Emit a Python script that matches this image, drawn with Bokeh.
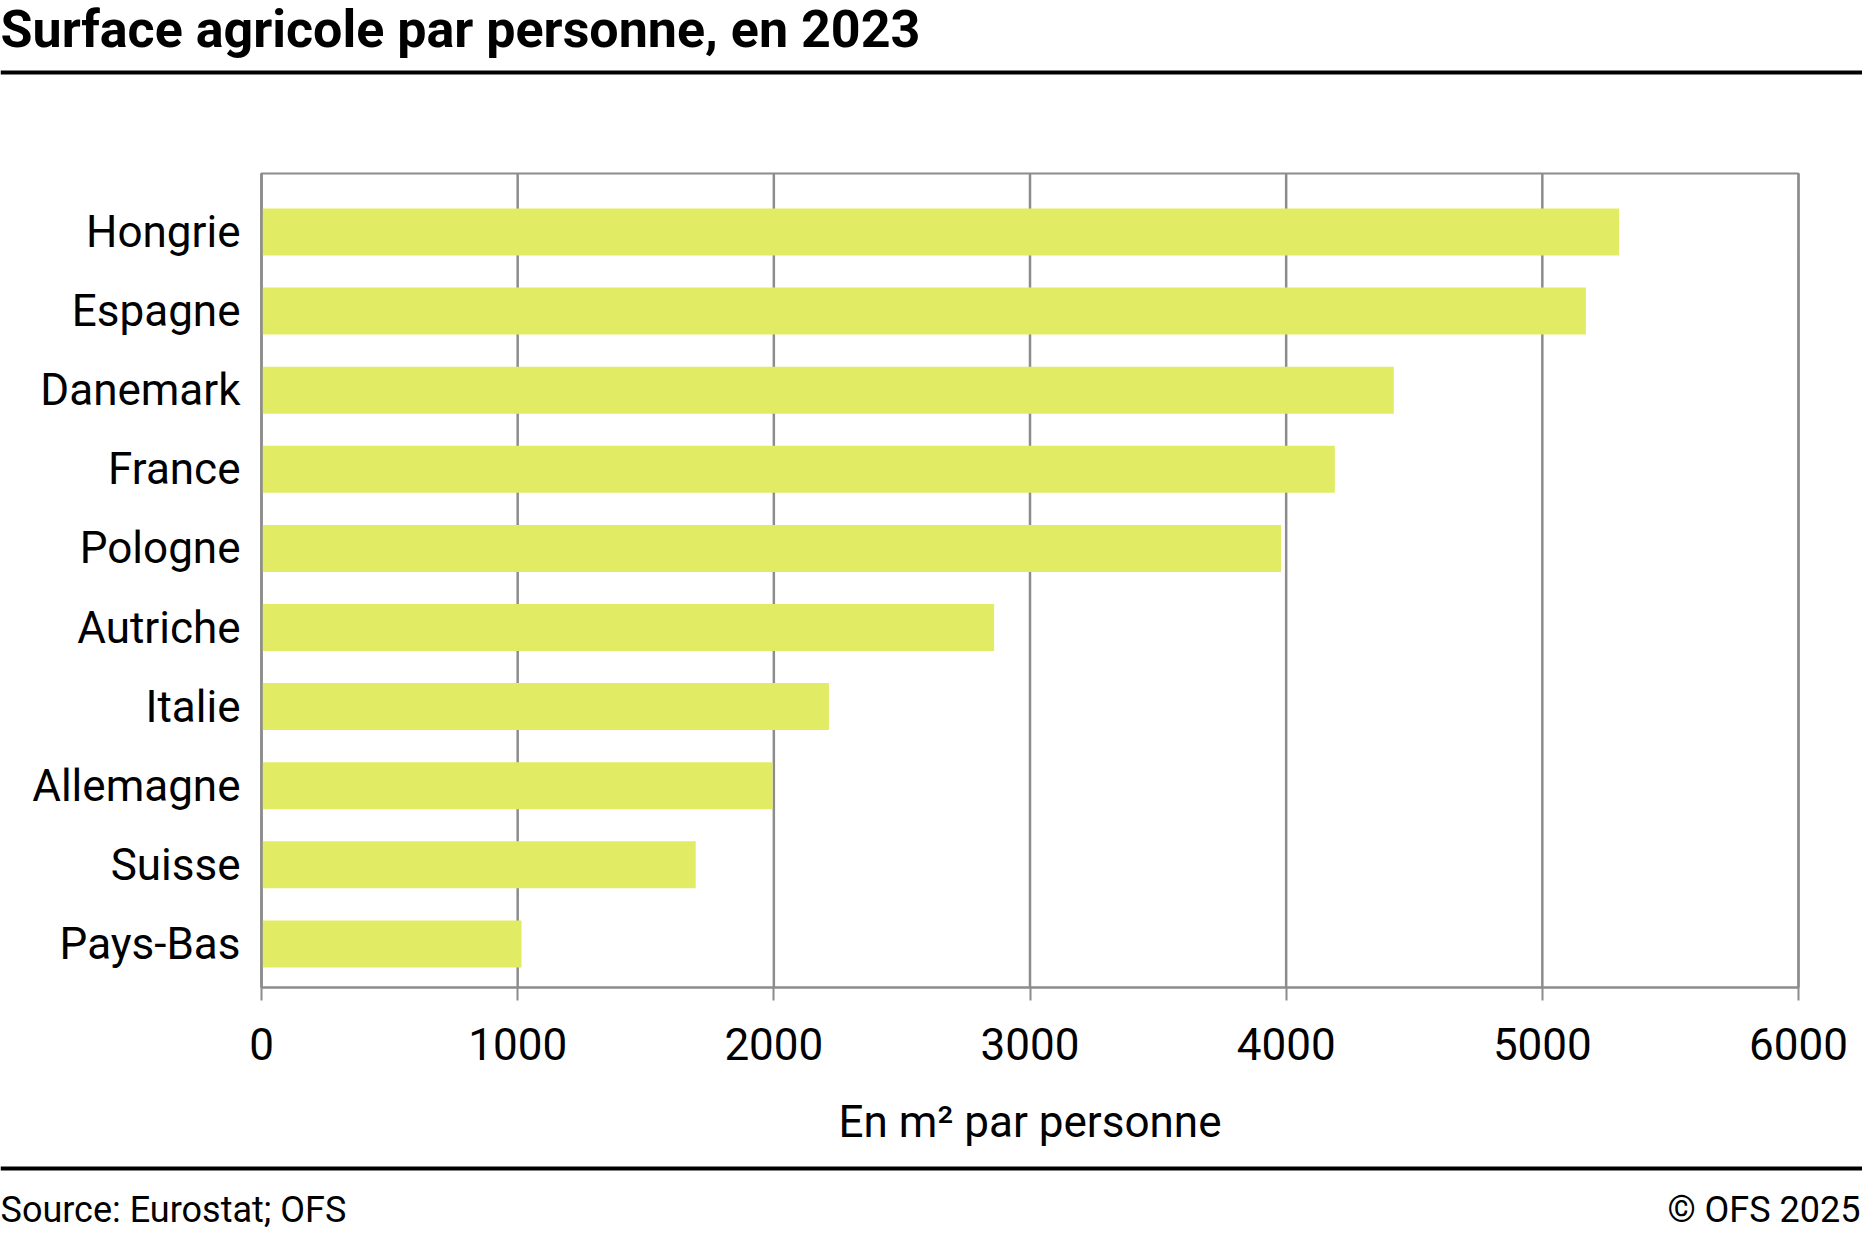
from bokeh.plotting import figure
from bokeh.models import Range1d, FixedTicker, LinearAxis
from bokeh.core.properties import value
from bokeh.embed import file_html
from bokeh.resources import INLINE

# ---------------- data ----------------
countries = ["Hongrie", "Espagne", "Danemark", "France", "Pologne",
             "Autriche", "Italie", "Allemagne", "Suisse", "Pays-Bas"]
surface = [5300, 5170, 4420, 4190, 3980, 2860, 2215, 1995, 1695, 1015]
x_ticks = [0, 1000, 2000, 3000, 4000, 5000, 6000]
title_text = "Surface agricole par personne, en 2023"
axis_title = "En m\u00b2 par personne"
source_text = "Source: Eurostat; OFS"
copyright_text = "\u00a9 OFS 2025"

# ---------------- layout / styles ----------------
W, H = 1862, 1236
FL, FR = 261, 1798            # plot area left/right (px)
ROW0, ROWSTEP = 231.5, 79.1   # first category centre and spacing (px)
PAD_TOP, PAD_BOT = 0.24, 0.05
FONT = "Roboto"
BAR = "#e1eb63"
GREY = "#8c8c8c"
BASE_SHIFT = 0.38             # empirical baseline correction (em)

n = len(countries)
idx = list(range(n))
xmin, xmax = x_ticks[0], x_ticks[-1]
ppu = (FR - FL) / (xmax - xmin)          # px per unit
y_top = -0.5 - PAD_TOP
y_bot = n - 1 + 0.5 + PAD_BOT

p = figure(width=W, height=H, output_backend="svg", toolbar_location=None,
           x_range=Range1d(xmin - FL / ppu, xmin + (W - FL) / ppu),
           y_range=Range1d((H - ROW0) / ROWSTEP, (0 - ROW0) / ROWSTEP),
           x_axis_location=None, y_axis_location=None, min_border=0)
p.background_fill_color = "white"
p.border_fill_color = "white"
p.outline_line_color = None
p.grid.visible = False

p.extra_x_ranges = {"px": Range1d(0, W)}
p.extra_y_ranges = {"px": Range1d(H, 0)}

# vertical grid lines at the ticks
p.segment(x0=x_ticks, x1=x_ticks, y0=[y_top] * len(x_ticks), y1=[y_bot] * len(x_ticks),
          line_color=GREY, line_width=2.5)
# bars
p.hbar(y=idx, left=0, right=surface, height=0.594, fill_color=BAR, line_color=None)
# plot-area outline
p.quad(left=[xmin], right=[xmax], top=[y_top], bottom=[y_bot],
       fill_color=None, line_color=GREY, line_width=2)

# axes
xaxis = LinearAxis(fixed_location=y_bot, bounds=(xmin, xmax),
                   ticker=FixedTicker(ticks=x_ticks))
xaxis.axis_line_color = GREY
xaxis.axis_line_width = 2
xaxis.major_tick_line_color = GREY
xaxis.major_tick_line_width = 2
xaxis.major_tick_out = 13
xaxis.major_tick_in = 0
xaxis.minor_tick_line_color = None
xaxis.major_label_text_font = FONT
xaxis.major_label_text_font_size = "44px"
xaxis.major_label_text_color = "black"
xaxis.major_label_standoff = 28
xaxis.axis_label = axis_title
xaxis.axis_label_text_font = FONT
xaxis.axis_label_text_font_size = "44px"
xaxis.axis_label_text_font_style = "normal"
xaxis.axis_label_text_color = "black"
xaxis.axis_label_standoff = 32
p.add_layout(xaxis, "below")

yaxis = LinearAxis(fixed_location=xmin, bounds=(y_top, y_bot),
                   ticker=FixedTicker(ticks=idx))
yaxis.major_label_overrides = {i: c for i, c in zip(idx, countries)}
yaxis.axis_line_color = GREY
yaxis.axis_line_width = 2
yaxis.major_tick_line_color = None
yaxis.minor_tick_line_color = None
yaxis.major_tick_out = 0
yaxis.major_tick_in = 0
yaxis.major_label_text_font = FONT
yaxis.major_label_text_font_size = "44px"
yaxis.major_label_text_color = "black"
yaxis.major_label_standoff = 21
p.add_layout(yaxis, "left")

# header / footer in pixel coordinates
px = dict(x_range_name="px", y_range_name="px")
TS, FS = 52, 36
p.text(x=[0], y=[49 - BASE_SHIFT * TS], text=[title_text], text_font=value(FONT),
       text_font_size=f"{TS}px", text_font_style="bold", text_color="black",
       text_baseline="alphabetic", text_align="left", **px)
p.segment(x0=[0, 0], x1=[W, W], y0=[72, 1168], y1=[72, 1168],
          line_color="black", line_width=4, **px)
p.text(x=[0], y=[1223 - BASE_SHIFT * FS], text=[source_text], text_font=value(FONT),
       text_font_size=f"{FS}px", text_color="black", text_baseline="alphabetic",
       text_align="left", **px)
p.text(x=[W - 2], y=[1223 - BASE_SHIFT * FS], text=[copyright_text], text_font=value(FONT),
       text_font_size=f"{FS}px", text_color="black", text_baseline="alphabetic",
       text_align="right", **px)

open("out.html", "w").write(file_html(p, INLINE))
